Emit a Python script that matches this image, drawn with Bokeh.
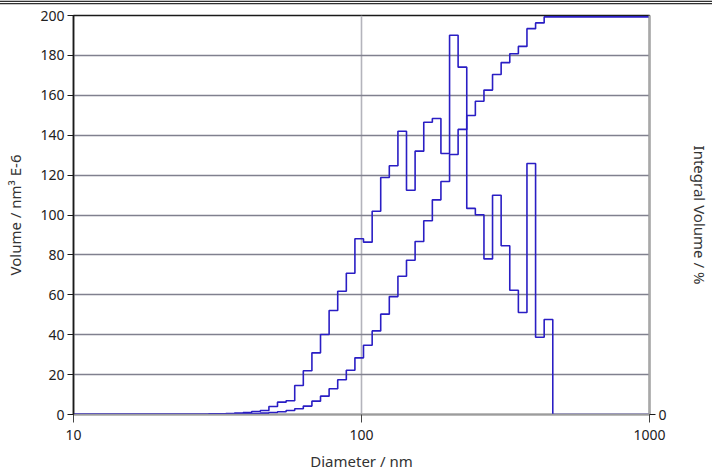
from bokeh.plotting import figure
from bokeh.layouts import column
from bokeh.models import Range1d, LinearAxis, FixedTicker, PrintfTickFormatter, Div
from bokeh.embed import file_html
from bokeh.resources import INLINE

# Bin edges (diameter, nm) of the size classes
edges_nm = [10.0, 29.48, 31.58, 33.82, 36.23, 38.81, 41.57, 44.53, 47.70, 51.09, 54.73,
            58.63, 62.80, 67.27, 72.06, 77.19, 82.68, 88.57, 94.87, 101.6, 108.9,
            116.6, 124.9, 133.8, 143.3, 153.5, 164.5, 176.2, 188.7, 202.2, 216.5,
            232.0, 248.5, 266.2, 285.1, 305.4, 327.2, 350.5, 375.4, 402.2, 430.8,
            461.5, 1000.0]

# Volume distribution per bin (nm^3 E-6), starting at each edge
volume = [0.1, 0.3, 0.4, 0.5, 0.7, 1.0, 1.5, 2.0, 4.0, 6.2, 6.9,
          14.5, 21.9, 30.9, 40.1, 52.1, 61.8, 70.8, 88.1, 86.4, 101.9,
          118.8, 124.7, 142.0, 112.4, 132.0, 146.5, 148.4, 130.8, 190.1, 174.1,
          103.3, 100.1, 78.0, 109.9, 84.6, 62.3, 51.1, 125.8, 38.7, 47.6,
          0.0, 0.0]

# Integral (cumulative) volume in %, starting at each edge
integral_pct = [0.05, 0.1, 0.1, 0.15, 0.15, 0.2, 0.25, 0.35, 0.5, 0.7, 1.0,
                1.45, 2.1, 3.35, 4.6, 6.45, 8.7, 11.1, 14.2, 17.35, 20.95,
                25.15, 29.55, 34.65, 38.65, 43.35, 48.55, 53.8, 58.4, 65.15, 71.45,
                74.95, 78.5, 81.3, 85.2, 88.2, 90.4, 92.25, 96.7, 98.15, 99.65,
                99.65, 99.65]

x_ticks = [10, 100, 1000]
y_ticks = [0, 20, 40, 60, 80, 100, 120, 140, 160, 180, 200]
grid_y = [20, 40, 60, 80, 100, 120, 140, 160, 180]

FONT = "Noto Sans"
LINE = "#2a1ec4"

fig = figure(x_axis_type="log", x_range=Range1d(10, 1000), y_range=Range1d(0, 200),
             frame_width=576, frame_height=399,
             min_border_left=73, min_border_right=63, min_border_top=10, min_border_bottom=56,
             output_backend="svg", toolbar_location=None)

fig.extra_y_ranges = {"pct": Range1d(0, 100)}
right = LinearAxis(y_range_name="pct", axis_label="Integral Volume / %")
fig.add_layout(right, "right")

fig.step(edges_nm, volume, mode="after", line_color=LINE, line_width=1.6)
fig.step(edges_nm, integral_pct, mode="after", line_color=LINE, line_width=1.6, y_range_name="pct")

fig.outline_line_color = "#1a1a1a"
fig.outline_line_width = 1.5
fig.background_fill_color = "white"
fig.border_fill_color = "white"

# grids
fig.xgrid.ticker = FixedTicker(ticks=[100])
fig.xgrid.grid_line_color = "#b4b4bc"
fig.xgrid.grid_line_width = 1.6
fig.ygrid.ticker = FixedTicker(ticks=grid_y)
fig.ygrid.grid_line_color = "#80808e"
fig.ygrid.grid_line_width = 1.4

# x axis
xa = fig.xaxis[0]
xa.ticker = FixedTicker(ticks=x_ticks, minor_ticks=[])
xa.formatter = PrintfTickFormatter(format="%d")
xa.axis_label = "Diameter / nm"
xa.axis_line_color = "#9c9c9c"
xa.axis_line_width = 1.5
xa.major_tick_line_color = "#444444"
xa.major_tick_out = 8
xa.major_tick_in = 0
xa.minor_tick_line_color = None
xa.major_label_standoff = 7
xa.axis_label_standoff = 8

# left y axis
ya = fig.yaxis[0]
ya.ticker = FixedTicker(ticks=y_ticks, minor_ticks=[])
ya.axis_label = "Volume / nm³ E-6"
ya.axis_line_color = "#1a1a1a"
ya.axis_line_width = 1.5
ya.major_tick_line_color = "#1a1a1a"
ya.major_tick_out = 6
ya.major_tick_in = 0
ya.minor_tick_line_color = None
ya.major_label_standoff = 3
ya.axis_label_standoff = 12

# right y axis
right.ticker = FixedTicker(ticks=[0], minor_ticks=[])
right.axis_line_color = "#a8a8a8"
right.axis_line_width = 2
right.major_tick_line_color = "#1a1a1a"
right.major_tick_out = 6
right.major_tick_in = 0
right.minor_tick_line_color = None
right.major_label_standoff = 3
right.axis_label_standoff = 20

for ax in (xa, ya, right):
    ax.major_label_text_font = FONT
    ax.major_label_text_font_size = "14px"
    ax.major_label_text_color = "#222222"
    ax.axis_label_text_font = FONT
    ax.axis_label_text_font_size = "15px"
    ax.axis_label_text_font_style = "normal"
    ax.axis_label_text_color = "#333333"

# window-frame double rule at the very top
rule = Div(text="", width=712, height=5, margin=0,
           styles={"background": ("linear-gradient(to bottom, #c4c4c4 0px, #c4c4c4 1px, "
                                  "#303030 1px, #303030 2px, #ffffff 2px, #ffffff 3px, "
                                  "#303030 3px, #303030 4px, #c8c8c8 4px, #c8c8c8 5px)"),
                   "width": "712px", "height": "5px"})

p = column(rule, fig, spacing=0)

open("out.html", "w").write(file_html(p, INLINE))
